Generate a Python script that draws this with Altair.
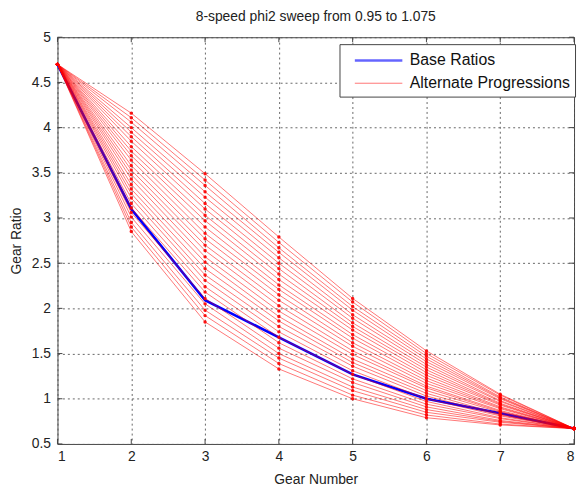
import altair as alt
import pandas as pd

gears = [1, 2, 3, 4, 5, 6, 7, 8]
base_ratios = [4.7, 3.1, 2.09, 1.68, 1.27, 1.0, 0.84, 0.67]

first_gear = 4.7
last_gear = 0.67
gear2 = [4.16, 4.11, 4.06, 4.00, 3.95, 3.90, 3.85, 3.79, 3.74, 3.69, 3.64, 3.58, 3.53,
         3.48, 3.43, 3.37, 3.32, 3.27, 3.22, 3.16, 3.11, 3.06, 3.01, 2.95, 2.90, 2.85]
gear3 = [3.49, 3.42, 3.36, 3.29, 3.23, 3.16, 3.10, 3.03, 2.97, 2.90, 2.83, 2.77, 2.70,
         2.64, 2.57, 2.51, 2.44, 2.37, 2.31, 2.24, 2.18, 2.11, 2.05, 1.98, 1.92, 1.85]
gear4 = [2.79, 2.73, 2.67, 2.62, 2.56, 2.50, 2.44, 2.38, 2.32, 2.26, 2.21, 2.15, 2.09,
         2.03, 1.97, 1.91, 1.86, 1.80, 1.74, 1.68, 1.62, 1.56, 1.50, 1.45, 1.39, 1.33]
gear5 = [2.11, 2.07, 2.02, 1.98, 1.93, 1.89, 1.84, 1.80, 1.76, 1.71, 1.67, 1.62, 1.58,
         1.53, 1.49, 1.44, 1.40, 1.36, 1.31, 1.27, 1.22, 1.18, 1.13, 1.09, 1.04, 1.00]
gear6 = [1.53, 1.50, 1.47, 1.44, 1.41, 1.38, 1.35, 1.32, 1.29, 1.26, 1.23, 1.20, 1.17,
         1.14, 1.12, 1.09, 1.06, 1.03, 1.00, 0.97, 0.94, 0.91, 0.88, 0.85, 0.82, 0.79]
gear7 = [1.05, 1.04, 1.02, 1.01, 1.00, 0.98, 0.97, 0.95, 0.94, 0.93, 0.91, 0.90, 0.89,
         0.87, 0.86, 0.85, 0.83, 0.82, 0.81, 0.79, 0.78, 0.76, 0.75, 0.74, 0.72, 0.71]

y_ticks = [0.5, 1, 1.5, 2, 2.5, 3, 3.5, 4, 4.5, 5]
x_ticks = [1, 2, 3, 4, 5, 6, 7, 8]

series_names = ["Base Ratios", "Alternate Progressions"]

W, H = 522, 411
FONT = "Liberation Sans"

rows = []
for k in range(len(gear2)):
    vals = [first_gear, gear2[k], gear3[k], gear4[k], gear5[k], gear6[k], gear7[k], last_gear]
    for g, v in zip(gears, vals):
        rows.append({"line": k, "gear": g, "ratio": v, "series": series_names[1]})
alt_df = pd.DataFrame(rows)
base_df = pd.DataFrame({"gear": gears, "ratio": base_ratios, "series": series_names[0]})

xscale = alt.Scale(domain=[1, 8], nice=False, zero=False)
yscale = alt.Scale(domain=[0.5, 5], nice=False, zero=False)
xaxis = alt.Axis(values=x_ticks, title="Gear Number", format="~g", grid=True, ticks=False,
                 domain=False, labelPadding=6, titlePadding=9)
yaxis = alt.Axis(values=y_ticks, title="Gear Ratio", format="~g", grid=True, ticks=False,
                 domain=False, labelPadding=7, titlePadding=8)

leg = alt.Legend(title=None, orient="none", legendX=285, legendY=7,
                 symbolType="M-2.4,0H2.4", symbolSize=400)
color = alt.Color("series:N", scale=alt.Scale(domain=series_names, range=["#0000ff", "#ff0000"]),
                  legend=leg)
swidth = alt.StrokeWidth("series:N",
                         scale=alt.Scale(type="ordinal", domain=series_names, range=[2.6, 0.9]),
                         legend=leg)

base_line = alt.Chart(base_df).mark_line().encode(
    x=alt.X("gear:Q", scale=xscale, axis=xaxis),
    y=alt.Y("ratio:Q", scale=yscale, axis=yaxis),
    color=color,
    strokeWidth=swidth,
)

alt_lines = alt.Chart(alt_df).mark_line(opacity=0.6).encode(
    x=alt.X("gear:Q", scale=xscale),
    y=alt.Y("ratio:Q", scale=yscale),
    detail="line:N",
    color=color,
    strokeWidth=swidth,
)

alt_points = alt.Chart(alt_df).mark_circle(size=12, opacity=0.9).encode(
    x=alt.X("gear:Q", scale=xscale),
    y=alt.Y("ratio:Q", scale=yscale),
    color=alt.value("#ff0000"),
)

ytick_df = pd.DataFrame({"v": y_ticks})
xtick_df = pd.DataFrame({"v": x_ticks})
tick_color = "#444444"
left_ticks = alt.Chart(ytick_df).mark_rule(color=tick_color).encode(
    y=alt.Y("v:Q", scale=yscale), x=alt.value(0), x2=alt.value(5))
right_ticks = alt.Chart(ytick_df).mark_rule(color=tick_color).encode(
    y=alt.Y("v:Q", scale=yscale), x=alt.value(W - 5), x2=alt.value(W))
bottom_ticks = alt.Chart(xtick_df).mark_rule(color=tick_color).encode(
    x=alt.X("v:Q", scale=xscale), y=alt.value(H - 5), y2=alt.value(H))
top_ticks = alt.Chart(xtick_df).mark_rule(color=tick_color).encode(
    x=alt.X("v:Q", scale=xscale), y=alt.value(0), y2=alt.value(5))

chart = alt.layer(
    base_line, alt_lines, alt_points, left_ticks, right_ticks, bottom_ticks, top_ticks
).properties(
    width=W, height=H,
    title=alt.TitleParams("8-speed phi2 sweep from 0.95 to 1.075", fontSize=14, fontWeight="normal",
                          font=FONT, color="#222222", offset=6),
    autosize=alt.AutoSizeParams(type="none"),
    padding={"left": 50, "top": 27, "right": 3, "bottom": 44},
).configure_view(
    stroke="#444444", strokeWidth=1
).configure_axis(
    labelFont=FONT, titleFont=FONT, labelFontSize=14, titleFontSize=14,
    labelColor="#222222", titleColor="#222222", titleFontWeight="normal",
    gridColor="#555555", gridDash=[2, 3], gridOpacity=0.9, gridWidth=1,
).configure_legend(
    labelFont=FONT, labelFontSize=16, labelColor="#111111", labelLimit=300,
    fillColor="#ffffff", strokeColor="#444444", padding=5, rowPadding=4,
    symbolOffset=23, labelOffset=20,
)

chart.save("out.html", embed_options={"renderer": "svg", "actions": False})
